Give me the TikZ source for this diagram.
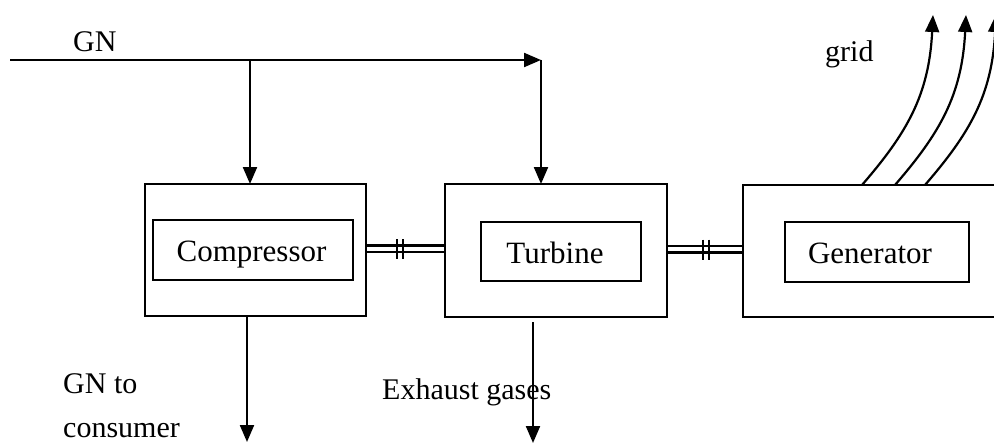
\documentclass[tikz,border=0pt]{standalone}
\usepackage{fontspec}
\setmainfont{Liberation Serif}
\usetikzlibrary{arrows.meta,calc}
\begin{document}
\begin{tikzpicture}[x=1pt,y=-1pt,
  lbl/.style={font=\fontsize{30}{34}\selectfont, inner sep=0pt, anchor=base west},
  outerbox/.style={draw, line width=2.2pt, inner sep=0pt, outer sep=0pt},
  innerbox/.style={draw, line width=2.2pt, inner sep=0pt, outer sep=0pt, font=\fontsize{31}{34}\selectfont, text height=23pt, text depth=0pt},
  arr/.style={line width=2.2pt, -{Triangle[length=17pt,width=14pt]}},
  shaft/.style={line width=2.2pt},
  tickmark/.style={line width=2.4pt}]
\useasboundingbox (0,0) rectangle (994,444);
\clip (0,0) rectangle (994,444);
\fill[white] (0,0) rectangle (994,444);

% outer boxes
\node[outerbox, minimum width=221pt, minimum height=132pt] (comp) at (255.5,250) {};
\node[outerbox, minimum width=222pt, minimum height=133pt] (turb) at (556,250.5) {};
\node[outerbox, minimum width=262pt, minimum height=132pt] (gen) at (874,251) {};
% inner boxes
\node[innerbox, minimum width=200pt, minimum height=60pt] (compressor) at (253,250) {\hspace*{-3pt}Compressor};
\node[innerbox, minimum width=160pt, minimum height=59pt] (turbine) at (561,251.5) {\hspace*{-12pt}Turbine};
\node[innerbox, minimum width=184pt, minimum height=60pt] (generator) at (877,252) {\hspace*{-14pt}Generator};

% shafts
\draw[shaft] ([yshift=4.5pt]comp.east) -- ([yshift=4.5pt]comp.east -| turb.west);
\draw[shaft] ([yshift=-2pt]comp.east) -- ([yshift=-2pt]comp.east -| turb.west);
\draw[shaft] ([yshift=4.5pt]turb.east) -- ([yshift=4.5pt]turb.east -| gen.west);
\draw[shaft] ([yshift=-2pt]turb.east) -- ([yshift=-2pt]turb.east -| gen.west);
\path (comp.east) -- (comp.east -| turb.west) coordinate[pos=0.43] (s1);
\path (turb.east) -- (turb.east -| gen.west) coordinate[pos=0.51] (s2);
\foreach \s in {s1,s2} {
  \draw[tickmark] ($(\s)+(-3,-11)$) -- ($(\s)+(-3,9)$);
  \draw[tickmark] ($(\s)+(3,-11)$) -- ($(\s)+(3,9)$);
}

% GN supply
\coordinate (gnStart) at (10,60);
\coordinate (gnEnd) at (541,60);
\coordinate (gnBranch) at (250,60);
\draw[arr] (gnStart) -- (gnEnd);
\draw[arr] (gnEnd) -- (gnEnd |- turb.north);
\draw[arr] (gnBranch) -- (gnBranch |- comp.north);
\node[lbl] (gnlabel) at (73,52) {GN};

% outputs
\coordinate (consumerEnd) at (247,442);
\draw[arr] (comp.south -| consumerEnd) -- (consumerEnd);
\coordinate (exhEnd) at (533,443);
\draw[arr] ($(turb.south -| exhEnd)+(0,5)$) -- (exhEnd);
\node[lbl] (consumerlabel) at (63,393) {GN to};
\node[lbl] (consumerlabel2) at (63,437) {consumer};
\node[lbl] (exhlabel) at (382,399) {Exhaust gases};

% grid
\foreach \dx [count=\i] in {0,33,63} {
  \coordinate (g\i) at (862+\dx,185);
  \coordinate (t\i) at (933+\dx,15);
  \draw[arr] (g\i) .. controls ($(g\i)+(45,-52)$) and ($(t\i)+(-4,80)$) .. (t\i);
}
\node[lbl] (gridlabel) at (825,62) {grid};
\end{tikzpicture}
\end{document}
